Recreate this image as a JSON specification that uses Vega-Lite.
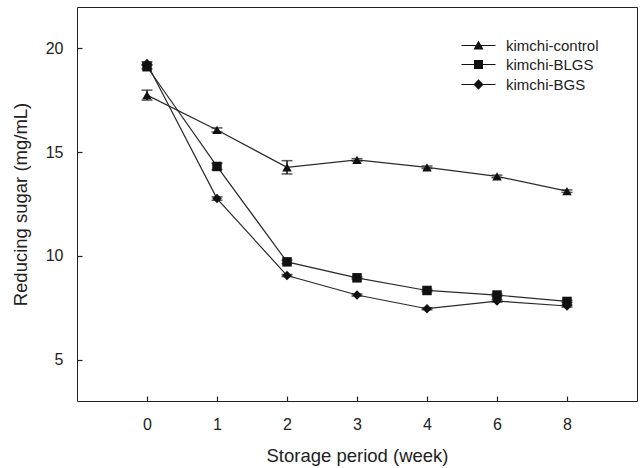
{
  "$schema": "https://vega.github.io/schema/vega-lite/v6.json",
  "width": 560,
  "height": 394,
  "autosize": "none",
  "padding": {"left": 77, "top": 7, "right": 3, "bottom": 67},
  "background": "white",
  "config": {
    "view": {"stroke": "#222", "strokeWidth": 1},
    "font": "Liberation Sans",
    "axis": {
      "domain": false,
      "grid": false,
      "offset": -5,
      "ticks": true,
      "tickColor": "#222",
      "tickSize": 5,
      "tickWidth": 1.2,
      "labelFont": "Liberation Sans",
      "labelFontSize": 16,
      "labelColor": "#222",
      "titleFont": "Liberation Sans",
      "titleFontSize": 18.5,
      "titleFontWeight": "normal",
      "titleColor": "#222"
    }
  },
  "data": {
    "values": [
      {"week": 0, "series": "kimchi-control", "value": 17.75, "sd": 0.24},
      {"week": 1, "series": "kimchi-control", "value": 16.07, "sd": 0.1},
      {"week": 2, "series": "kimchi-control", "value": 14.27, "sd": 0.32},
      {"week": 3, "series": "kimchi-control", "value": 14.63, "sd": 0.06},
      {"week": 4, "series": "kimchi-control", "value": 14.27, "sd": 0.06},
      {"week": 6, "series": "kimchi-control", "value": 13.83, "sd": 0.06},
      {"week": 8, "series": "kimchi-control", "value": 13.12, "sd": 0.06},
      {"week": 0, "series": "kimchi-BLGS", "value": 19.12, "sd": 0.1},
      {"week": 1, "series": "kimchi-BLGS", "value": 14.31, "sd": 0.15},
      {"week": 2, "series": "kimchi-BLGS", "value": 9.71, "sd": 0.08},
      {"week": 3, "series": "kimchi-BLGS", "value": 8.94, "sd": 0.05},
      {"week": 4, "series": "kimchi-BLGS", "value": 8.33, "sd": 0.05},
      {"week": 6, "series": "kimchi-BLGS", "value": 8.11, "sd": 0.05},
      {"week": 8, "series": "kimchi-BLGS", "value": 7.8, "sd": 0.05},
      {"week": 0, "series": "kimchi-BGS", "value": 19.28, "sd": 0.08},
      {"week": 1, "series": "kimchi-BGS", "value": 12.76, "sd": 0.08},
      {"week": 2, "series": "kimchi-BGS", "value": 9.05, "sd": 0.05},
      {"week": 3, "series": "kimchi-BGS", "value": 8.11, "sd": 0.05},
      {"week": 4, "series": "kimchi-BGS", "value": 7.45, "sd": 0.05},
      {"week": 6, "series": "kimchi-BGS", "value": 7.82, "sd": 0.05},
      {"week": 8, "series": "kimchi-BGS", "value": 7.58, "sd": 0.05}
    ]
  },
  "encoding": {
    "x": {
      "field": "week",
      "type": "ordinal",
      "scale": {"type": "point", "padding": 1},
      "axis": {"labelAngle": 0, "title": "Storage period (week)", "labelPadding": 15, "titlePadding": 14}
    },
    "y": {
      "field": "value",
      "type": "quantitative",
      "scale": {"domain": [3, 22], "nice": false, "zero": false},
      "axis": {"values": [5, 10, 15, 20], "title": "Reducing sugar (mg/mL)", "labelPadding": 14, "titlePadding": 15}
    }
  },
  "layer": [
    {
      "mark": {"type": "errorbar", "color": "#111", "thickness": 1.5, "ticks": {"size": 11, "color": "#111", "thickness": 1.5}},
      "encoding": {
        "yError": {"field": "sd"},
        "detail": {"field": "series"}
      }
    },
    {
      "mark": {"type": "line", "color": "#2a2a2a", "strokeWidth": 1.2},
      "encoding": {"detail": {"field": "series", "type": "nominal"}}
    },
    {
      "mark": {"type": "point", "filled": true, "color": "#111", "size": 90, "opacity": 1},
      "encoding": {
        "shape": {
          "field": "series",
          "type": "nominal",
          "scale": {"domain": ["kimchi-control", "kimchi-BLGS", "kimchi-BGS"], "range": ["triangle-up", "square", "diamond"]},
          "legend": null
        }
      }
    },
    {
      "transform": [{"filter": "datum.week > 100"}],
      "mark": {"type": "point", "filled": true, "color": "#111", "size": 100, "opacity": 1},
      "encoding": {
        "shape": {
          "field": "series",
          "type": "nominal",
          "scale": {
            "domain": ["kimchi-control", "kimchi-BLGS", "kimchi-BGS"],
            "range": [
              "M-3.4,-0.11H3.4V0.11H-3.4ZM0,-1L1,0.8L-1,0.8Z",
              "M-3.4,-0.11H3.4V0.11H-3.4ZM-0.9,-0.9H0.9V0.9H-0.9Z",
              "M-3.4,-0.11H3.4V0.11H-3.4ZM0,-1.05L1,0L0,1.05L-1,0Z"
            ]
          },
          "legend": {
            "orient": "none",
            "legendX": 394,
            "legendY": 31,
            "title": null,
            "padding": 0,
            "labelFont": "Liberation Sans",
            "labelFontSize": 15,
            "labelColor": "#222",
            "labelOffset": 20,
            "symbolSize": 100,
            "symbolFillColor": "#111",
            "symbolOpacity": 1,
            "rowPadding": 3
          }
        }
      }
    }
  ],
  "resolve": {"scale": {"shape": "independent"}}
}
